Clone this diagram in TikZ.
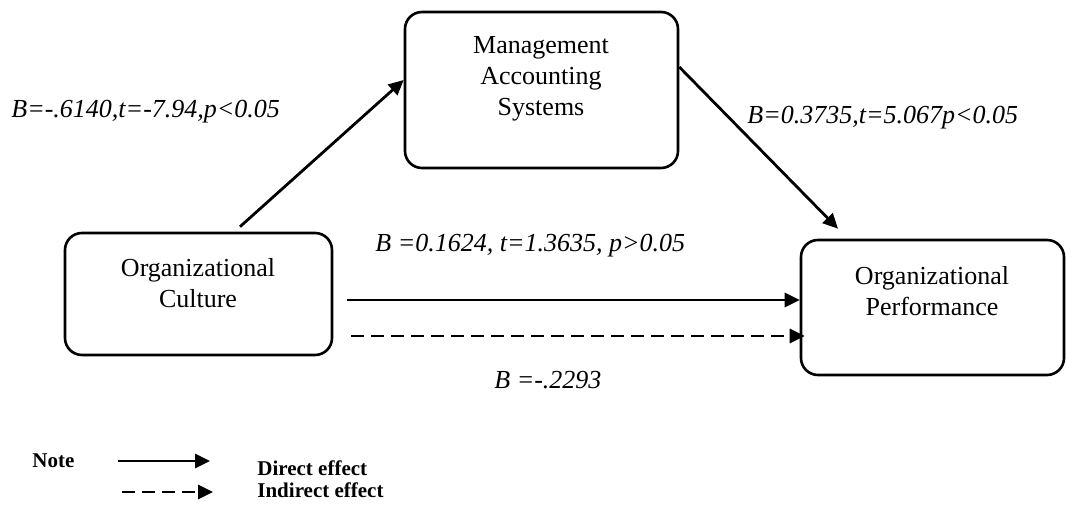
\documentclass[tikz,border=0pt]{standalone}
\usepackage{fontspec}
\setmainfont{Liberation Serif}
\usetikzlibrary{arrows.meta,calc}
\begin{document}
\begin{tikzpicture}[x=0.5pt,y=-0.5pt,
  box/.style={draw,line width=1.3pt,rounded corners=8.5pt,inner sep=0pt},
  boxtext/.style={align=center,font=\fontsize{13}{15.5}\selectfont,inner sep=0pt},
  lab/.style={anchor=west,inner sep=0pt,font=\fontsize{13}{15.5}\selectfont\itshape},
  leg/.style={anchor=west,inner sep=0pt,font=\fontsize{10.5}{12}\selectfont\bfseries},
  arr/.style={line width=1.4pt,-{Triangle[length=7.5pt,width=7pt]}},
  dsh/.style={arr,dash pattern=on 6.5pt off 3.5pt}]
\useasboundingbox (0,0) rectangle (1066,507);
% boxes
\node[box,minimum width=136.5pt,minimum height=78pt] (mas) at (541.5,90) {};
\node[box,minimum width=133.5pt,minimum height=61pt] (oc) at (198.5,294) {};
\node[box,minimum width=131.5pt,minimum height=67.5pt] (op) at (932.5,307.5) {};
\node[boxtext] (mast) at (541,79) {Management\\Accounting\\Systems};
\node[boxtext] (oct) at (198,283) {Organizational\\Culture};
\node[boxtext] (opt) at (932,291) {Organizational\\Performance};
% connectors
\draw[arr] ([xshift=20.75pt,yshift=2.5pt]oc.north) -- ([yshift=5pt]mas.west);
\draw[arr] ([yshift=11.5pt]mas.east) -- ([xshift=-47.25pt,yshift=5pt]op.north);
\coordinate (s1) at ([xshift=7pt,yshift=-3pt]oc.east);
\draw[arr] (s1) -- (s1 -| op.west);
\coordinate (s2) at ([xshift=9pt,yshift=-21pt]oc.east);
\draw[dsh] (s2) -- ([xshift=2.5pt]s2 -| op.west);
% labels
\node[lab] (l1) at (11,112) {B=-.6140,t=-7.94,p<0.05};
\node[lab] (l2) at (747,118) {B=0.3735,t=5.067p<0.05};
\node[lab] (l3) at (375,246) {B =0.1624, t=1.3635, p>0.05};
\node[lab] (l4) at (494,380) {B =-.2293};
% legend
\node[leg] (note) at (32,461) {Note};
\coordinate (la1) at (118,461);
\coordinate (la2) at (210,461);
\draw[arr] (la1) -- (la2);
\node[leg] (direct) at (257,468) {Direct effect};
\coordinate (lb1) at (122,492);
\coordinate (lb2) at (213,492);
\draw[dsh] (lb1) -- (lb2);
\node[leg] (indirect) at (257,490) {Indirect effect};
\end{tikzpicture}
\end{document}
